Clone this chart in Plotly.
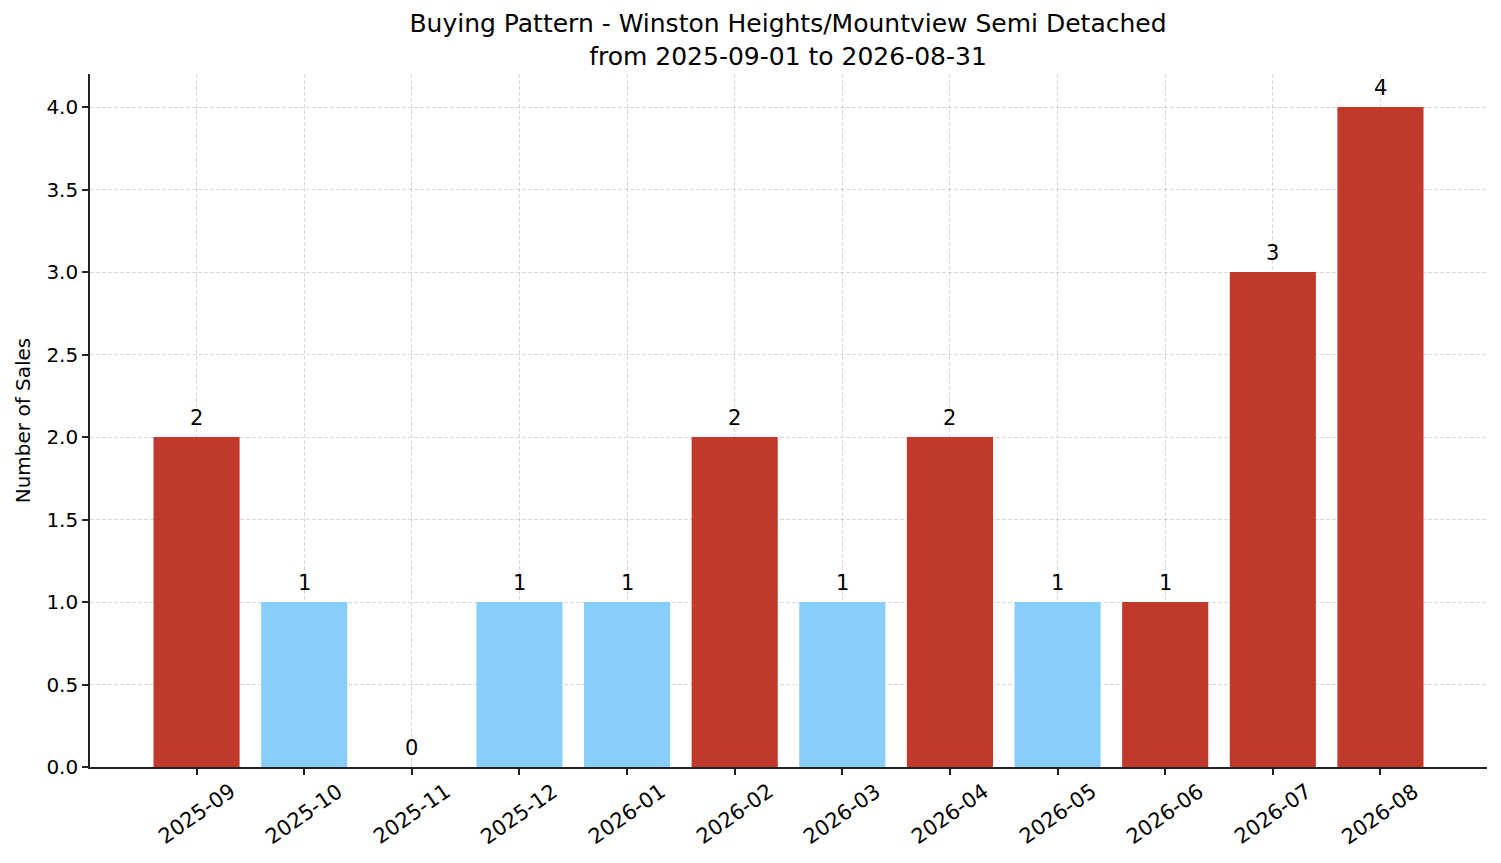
import plotly.graph_objects as go

# monthly sales counts
months = ['2025-09', '2025-10', '2025-11', '2025-12', '2026-01', '2026-02',
          '2026-03', '2026-04', '2026-05', '2026-06', '2026-07', '2026-08']
sales = [2, 1, 0, 1, 1, 2, 1, 2, 1, 1, 3, 4]
bar_colors = ['#c0392b', '#87cefa', '#87cefa', '#87cefa', '#87cefa', '#c0392b',
              '#87cefa', '#c0392b', '#87cefa', '#c0392b', '#c0392b', '#c0392b']

title_lines = ['Buying Pattern - Winston Heights/Mountview Semi Detached',
               'from 2025-09-01 to 2026-08-31']

xpos = list(range(len(months)))

fig = go.Figure()
fig.add_trace(go.Bar(
    x=xpos, y=sales, width=0.8,
    marker=dict(color=bar_colors, line=dict(width=0)),
    showlegend=False,
))

# value labels a little above each bar
for i, v in zip(xpos, sales):
    fig.add_annotation(
        x=i, y=v, xref='x', yref='y', text=str(v), showarrow=False,
        xanchor='center', yanchor='bottom', yshift=5,
        font=dict(size=21, color='black'),
    )

# rotated month labels, centred under each tick like the original
for i, m in enumerate(months):
    fig.add_annotation(
        x=i, y=0, xref='x', yref='paper',
        text=m, textangle=-35, showarrow=False,
        xanchor='center', yanchor='top', yshift=-9,
        font=dict(size=21, color='black'),
    )

grid = dict(showgrid=True, gridcolor='rgba(170,170,170,0.45)', griddash='4px,2px',
            gridwidth=1, zeroline=False, layer='above traces')

fig.update_layout(
    width=1493, height=855,
    plot_bgcolor='white', paper_bgcolor='white',
    font=dict(family='DejaVu Sans', size=20, color='black'),
    margin=dict(l=82, r=14, t=66, b=96),
    title=dict(text='<br>'.join(title_lines), x=(788 - 8) / 1493, xanchor='center',
               y=1 - 24 / 855, yanchor='top', font=dict(size=25)),
    bargap=0.2,
)
fig.update_xaxes(
    range=[-0.99, 11.99], tickvals=xpos, showticklabels=False,
    ticks='outside', ticklen=6, tickwidth=1.5, tickcolor='#222',
    showline=True, linecolor='#222', linewidth=1.6,
    **grid,
)
fig.update_yaxes(
    range=[0, 4.2], tickvals=[0, 0.5, 1, 1.5, 2, 2.5, 3, 3.5, 4],
    ticktext=['0.0', '0.5', '1.0', '1.5', '2.0', '2.5', '3.0', '3.5', '4.0'],
    ticks='outside', ticklen=6, tickwidth=1.5, tickcolor='#222',
    showline=True, linecolor='#222', linewidth=1.6,
    title=dict(text='Number of Sales', standoff=10, font=dict(size=20)),
    **grid,
)

fig.write_html("out.html")
